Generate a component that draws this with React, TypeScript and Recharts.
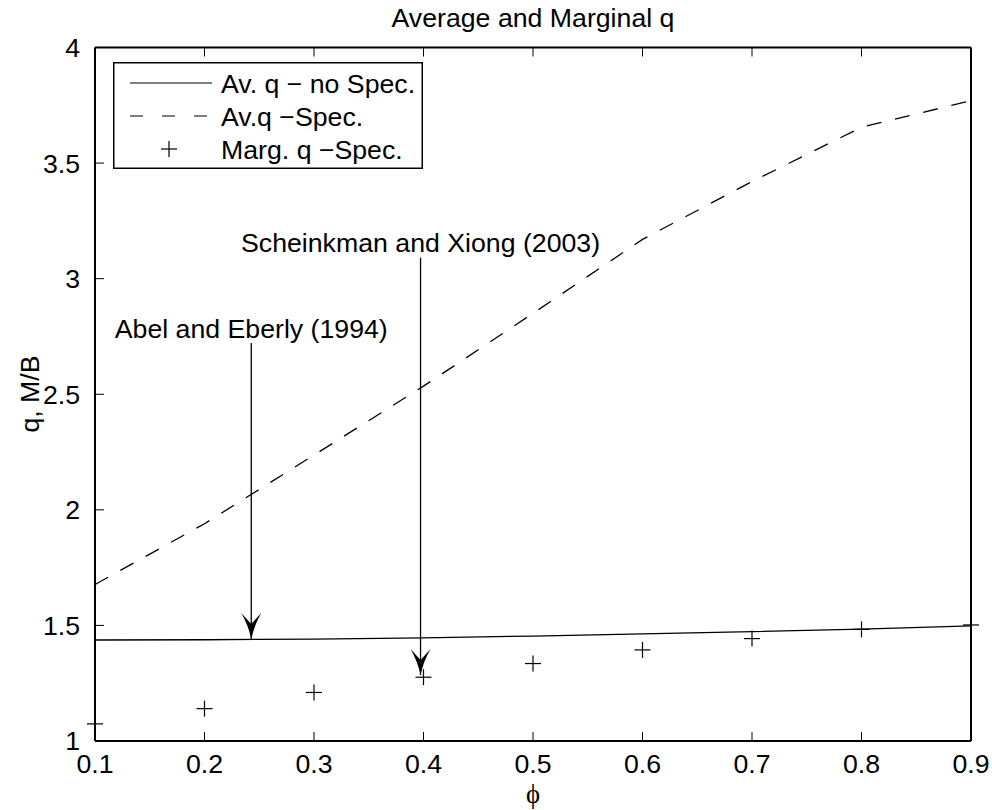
import {
  ComposedChart,
  Line,
  Scatter,
  XAxis,
  YAxis,
  Legend,
  Label,
  ReferenceLine,
  ReferenceDot,
} from "recharts";

const FONT = '"Liberation Sans", Arial, Helvetica, sans-serif';
const FS = 26.7;

// phi on the x axis, q values
const phi = [0.1, 0.2, 0.3, 0.4, 0.5, 0.6, 0.7, 0.8, 0.9];
const avQNoSpec = [1.437, 1.438, 1.441, 1.446, 1.454, 1.463, 1.473, 1.484, 1.498];
const avQSpec = [1.677, 1.94, 2.237, 2.535, 2.85, 3.17, 3.42, 3.655, 3.77];
const margQSpec = [1.074, 1.14, 1.21, 1.276, 1.335, 1.394, 1.443, 1.483, 1.502];

const xTicks = [0.1, 0.2, 0.3, 0.4, 0.5, 0.6, 0.7, 0.8, 0.9];
const yTicks = [1, 1.5, 2, 2.5, 3, 3.5, 4];

const seriesNames = ["Av. q \u2212 no Spec.", "Av.q \u2212Spec.", "Marg. q \u2212Spec."];

// arrow annotations, in data units
const noteLabels = ["Abel and Eberly (1994)", "Scheinkman and Xiong (2003)"];
const noteX = [0.2427, 0.3973];
const noteTextY = [2.744, 3.116];
const arrowFromY = [2.722, 3.09];
const arrowToY = [1.441, 1.285];

const rows = phi.map((p, i) => ({
  phi: p,
  avNoSpec: avQNoSpec[i],
  avSpec: avQSpec[i],
  margSpec: margQSpec[i],
}));

function Plus({ cx, cy }: any) {
  if (cx == null || cy == null) return null;
  return (
    <g stroke="#000" strokeWidth={1.2}>
      <line x1={cx - 8} y1={cy} x2={cx + 8} y2={cy} />
      <line x1={cx} y1={cy - 8} x2={cx} y2={cy + 8} />
    </g>
  );
}

function ArrowHead({ cx, cy }: any) {
  const d = `M ${cx} ${cy} Q ${cx - 3} ${cy - 14} ${cx - 10} ${cy - 26} L ${cx} ${cy - 15} L ${cx + 10} ${cy - 26} Q ${cx + 3} ${cy - 14} ${cx} ${cy} Z`;
  return <path d={d} fill="#000" stroke="none" />;
}

function noteText(label: string) {
  return ({ cx, cy }: any) => (
    <text x={cx} y={cy} textAnchor="middle" fontSize={FS} fill="#000" fontFamily={FONT}>
      {label}
    </text>
  );
}

function LegendBox() {
  const rowY = [21, 54, 87];
  return (
    <svg width={310} height={107} style={{ display: "block" }}>
      <rect x={0.75} y={0.75} width={308.5} height={105.5} fill="#fff" stroke="#000" strokeWidth={1.5} />
      <line x1={17} y1={rowY[0]} x2={99} y2={rowY[0]} stroke="#000" strokeWidth={1.2} />
      <line x1={17} y1={rowY[1]} x2={99} y2={rowY[1]} stroke="#000" strokeWidth={1.2} strokeDasharray="13 19" />
      <Plus cx={56} cy={rowY[2]} />
      {seriesNames.map((n, i) => (
        <text key={n} x={108} y={rowY[i] + 9.5} fontSize={FS} fill="#000" fontFamily={FONT}>
          {n}
        </text>
      ))}
    </svg>
  );
}

export default function App() {
  const tick = { fill: "#000", fontSize: FS, fontFamily: FONT };
  const axisLine = { stroke: "#000", strokeWidth: 2 };
  const tickLine = { stroke: "#000", strokeWidth: 1 };
  return (
    <div
      style={{
        position: "absolute",
        left: 0,
        top: 0,
        width: 992,
        height: 810,
        background: "#fff",
        fontFamily: FONT,
      }}
    >
      <ComposedChart width={992} height={810} data={rows} margin={{ top: 26.5, right: 20, bottom: 0, left: 0 }}>
        <XAxis
          dataKey="phi"
          type="number"
          domain={[0.1, 0.9]}
          ticks={xTicks}
          interval={0}
          height={69}
          tick={tick}
          tickSize={-9}
          tickMargin={22}
          axisLine={axisLine}
          tickLine={tickLine}
        >
          <Label
            value="ϕ"
            position="insideBottom"
            offset={7}
            fill="#000"
            fontSize={FS}
            fontFamily='"Liberation Serif", "DejaVu Serif", serif'
          />
        </XAxis>
        <XAxis
          xAxisId="top"
          orientation="top"
          dataKey="phi"
          type="number"
          domain={[0.1, 0.9]}
          ticks={xTicks}
          interval={0}
          height={21}
          tickFormatter={() => ""}
          tickSize={-9}
          axisLine={axisLine}
          tickLine={tickLine}
        >
          <Label value="Average and Marginal q" position="top" offset={0} fill="#000" fontSize={FS} />
        </XAxis>
        <YAxis
          type="number"
          domain={[1, 4]}
          ticks={yTicks}
          interval={0}
          width={95}
          tick={tick}
          tickSize={-9}
          tickMargin={24}
          axisLine={axisLine}
          tickLine={tickLine}
          label={{
            content: () => (
              <text
                x={30}
                y={394}
                transform="rotate(-90 30 394)"
                textAnchor="middle"
                dominantBaseline="central"
                fontSize={FS}
                fill="#000"
                fontFamily={FONT}
              >
                q, M/B
              </text>
            ),
          }}
        />
        <YAxis
          yAxisId="right"
          orientation="right"
          type="number"
          domain={[1, 4]}
          ticks={yTicks}
          interval={0}
          width={1}
          tickFormatter={() => ""}
          tickSize={-9}
          axisLine={axisLine}
          tickLine={tickLine}
        />
        <Line
          dataKey="avNoSpec"
          name={seriesNames[0]}
          type="linear"
          stroke="#000"
          strokeWidth={1.3}
          dot={false}
          activeDot={false}
          isAnimationActive={false}
        />
        <Line
          dataKey="avSpec"
          name={seriesNames[1]}
          type="linear"
          stroke="#000"
          strokeWidth={1.3}
          strokeDasharray="15 14"
          dot={false}
          activeDot={false}
          isAnimationActive={false}
        />
        <Scatter dataKey="margSpec" name={seriesNames[2]} shape={Plus} isAnimationActive={false} />
        {noteLabels.map((label, i) => (
          <ReferenceLine
            key={"l" + i}
            segment={[
              { x: noteX[i], y: arrowFromY[i] },
              { x: noteX[i], y: arrowToY[i] },
            ]}
            stroke="#000"
            strokeWidth={1.3}
          />
        ))}
        {noteLabels.map((label, i) => (
          <ReferenceDot key={"h" + i} x={noteX[i]} y={arrowToY[i]} r={1} shape={ArrowHead} />
        ))}
        {noteLabels.map((label, i) => (
          <ReferenceDot key={"t" + i} x={noteX[i]} y={noteTextY[i]} r={1} shape={noteText(label)} />
        ))}
        <Legend
          layout="vertical"
          align="center"
          verticalAlign="middle"
          wrapperStyle={{ left: 113, top: 62, width: 310, height: 107 }}
          content={() => <LegendBox />}
        />
      </ComposedChart>
    </div>
  );
}
